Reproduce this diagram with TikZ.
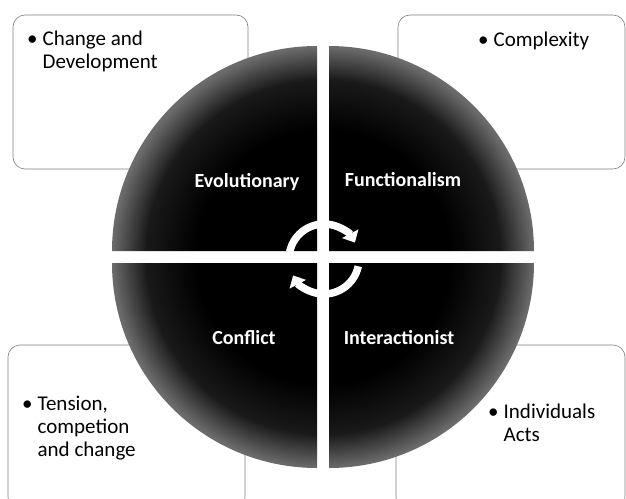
\documentclass[tikz,border=0pt]{standalone}
\usepackage{fontspec}
\setmainfont{Carlito}
\usetikzlibrary{arrows.meta}

\newcommand*{\qrad}{205}
\newcommand*{\qgap}{6}
\newcommand*{\arrad}{35}

% the path edge sits at 25bp
\pgfdeclareradialshading{discshade}{\pgfpoint{0bp}{0bp}}{%
	color(0bp)=(black); color(15bp)=(black); color(21bp)=(black!90); color(25bp)=(black!58); color(50bp)=(black!58)}

\newcommand*{\bulletlines}[1]{%
	\begin{tabular}[t]{@{}l@{\hspace{5pt}}l@{}}\textbullet & #1\end{tabular}}

\begin{document}
\begin{tikzpicture}
[
	x=1pt, y=1pt,
	cardbox/.style={draw=black!50, line width=0.6pt, rounded corners=12pt, fill=white},
	cardtext/.style={inner sep=0pt, anchor=base west, font=\fontsize{21}{23}\selectfont},
	quadlabel/.style={text=white, inner sep=0pt, font=\fontsize{20}{22}\selectfont\bfseries},
	cyclearrow/.style={white, line width=7.5pt, -{Triangle[width=18pt,length=10pt]}}
]
	\useasboundingbox (-323,-241) rectangle (303,257);

	% corner boxes
	\draw[cardbox] (-310,88) rectangle (-75,242);
	\draw[cardbox] (75,88) rectangle (302,242);
	\draw[cardbox] (-315,-88) rectangle (-78,-252);
	\draw[cardbox] (73,-88) rectangle (302,-252);

	% the four quarters
	\shade[shading=discshade]
		(\qgap,\qgap) -- ++(\qrad,0) arc[start angle=0, end angle=90, radius=\qrad pt] -- cycle
		(-\qgap,\qgap) -- ++(0,\qrad) arc[start angle=90, end angle=180, radius=\qrad pt] -- cycle
		(-\qgap,-\qgap) -- ++(-\qrad,0) arc[start angle=180, end angle=270, radius=\qrad pt] -- cycle
		(\qgap,-\qgap) -- ++(0,-\qrad) arc[start angle=270, end angle=360, radius=\qrad pt] -- cycle;

	\node[quadlabel] (evo) at (-76,75) {Evolutionary};
	\node[quadlabel] (func) at (80,77) {Functionalism};
	\node[quadlabel] (conf) at (-79,-81) {Conflict};
	\node[quadlabel] (inter) at (76,-81) {Interactionist};

	% cycle arrows
	\coordinate (cyc) at (1,-2);
	\draw[cyclearrow] ([shift={(168:\arrad pt)}]cyc) arc[start angle=168, end angle=28, radius=\arrad pt];
	\draw[cyclearrow] ([shift={(-12:\arrad pt)}]cyc) arc[start angle=-12, end angle=-152, radius=\arrad pt];

	% box texts
	\node[cardtext] (evotext) at (-296,211) {\bulletlines{Change and\\ & Development}};
	\node[cardtext] (functext) at (155,210) {\bulletlines{Complexity}};
	\node[cardtext] (conftext) at (-301,-153) {\bulletlines{Tension,\\ & competion\\ & and change}};
	\node[cardtext] (intertext) at (165,-161) {\bulletlines{Individuals\\ & Acts}};

\end{tikzpicture}
\end{document}
